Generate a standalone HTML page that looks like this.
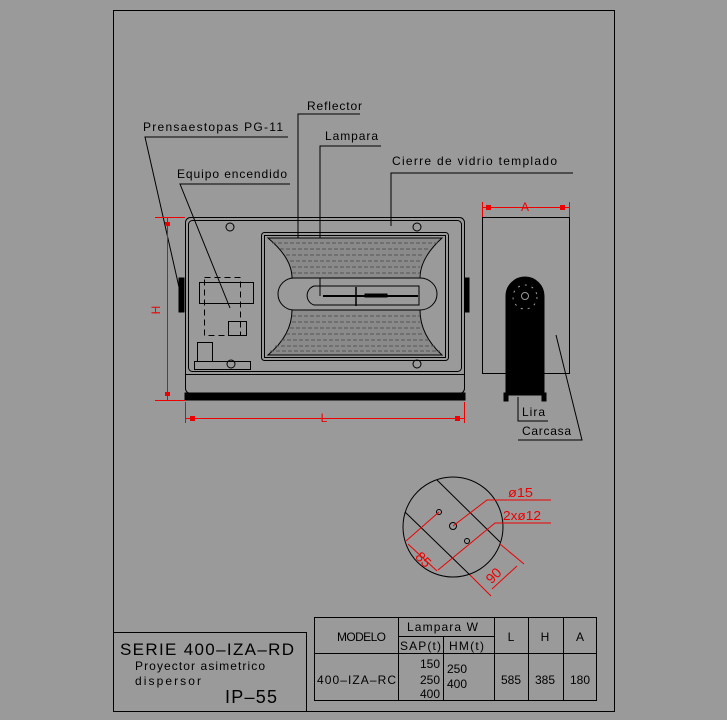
<!DOCTYPE html>
<html><head><meta charset="utf-8"><style>
html,body{margin:0;padding:0;background:#9a9a9a;}
svg{display:block;}
text{font-family:"Liberation Sans",sans-serif;}
</style></head><body>
<svg width="727" height="720" viewBox="0 0 727 720" xmlns="http://www.w3.org/2000/svg">
<rect width="727" height="720" fill="#9a9a9a"/>
<g fill="none" stroke="#000" stroke-width="1">
<rect x="113.5" y="10.5" width="501" height="701"/>
<polyline points="288,137 145,137 181,296"/>
<polyline points="290,184 180,184 230,308"/>
<polyline points="360,114 298,114 298,246"/>
<polyline points="381,146 320,146 320,296"/>
<polyline points="573,173 391,173 391,226"/>
<rect x="185.5" y="217.5" width="279" height="176" rx="5"/>
<rect x="188.5" y="220.5" width="273" height="151" rx="4"/>
<line x1="185" y1="374.5" x2="464" y2="374.5"/>
<rect x="185" y="393" width="280" height="7" fill="#000"/>
<rect x="179" y="278" width="5" height="34" fill="#000"/>
<rect x="465" y="278" width="4" height="34" fill="#000"/>
<rect x="261.5" y="232.5" width="187" height="128" rx="3"/>
<rect x="264.5" y="235.5" width="181" height="122"/>
<path d="M268,238 L442,238 Q420,258 420,278 L292,278 Q292,258 268,238 Z" fill="#8a8a8a" stroke="#000"/>
<path d="M268,355 L442,355 Q420,335 420,310 L292,310 Q292,335 268,355 Z" fill="#8a8a8a" stroke="#000"/>
<g stroke="#555" stroke-dasharray="4,2">
<line x1="272" y1="243" x2="438" y2="243"/><line x1="280" y1="249" x2="430" y2="249"/><line x1="286" y1="255" x2="424" y2="255"/><line x1="290" y1="261" x2="422" y2="261"/><line x1="292" y1="267" x2="420" y2="267"/><line x1="292" y1="273" x2="420" y2="273"/>
<line x1="292" y1="316" x2="420" y2="316"/><line x1="292" y1="322" x2="420" y2="322"/><line x1="290" y1="328" x2="422" y2="328"/><line x1="286" y1="334" x2="424" y2="334"/><line x1="281" y1="340" x2="429" y2="340"/><line x1="275" y1="346" x2="435" y2="346"/><line x1="270" y1="351" x2="440" y2="351"/>
</g>
<path d="M294,278 L420,278 A17,16 0 0 1 420,310 L294,310 A16,16 0 0 1 294,278 Z"/>
<path d="M314,286 L419,286 L419,305 L314,305 A10,10 0 0 1 314,286 Z"/>
<line x1="323" y1="296" x2="418" y2="296" stroke-width="2"/>
<line x1="356" y1="287" x2="356" y2="306" stroke-width="1.5"/>
<rect x="365" y="294" width="22" height="3" fill="#000"/>
<circle cx="230" cy="227" r="4"/><circle cx="417" cy="227" r="4"/><circle cx="231" cy="364" r="4"/><circle cx="417" cy="364" r="4"/>
<rect x="199.5" y="282.5" width="54" height="21"/>
<g stroke-dasharray="6,4"><rect x="204.5" y="277.5" width="36" height="58"/></g>
<rect x="228.5" y="321.5" width="18" height="14"/>
<rect x="197.5" y="342.5" width="15" height="19"/>
<rect x="194.5" y="361.5" width="56" height="8"/>
<rect x="482.5" y="217.5" width="87" height="156"/>
<path d="M506,296 A19,19 0 0 1 544,296 L544,395 L506,395 Z" fill="#000"/>
<rect x="504" y="393" width="4" height="8" fill="#000"/><rect x="542" y="393" width="4" height="8" fill="#000"/>
<circle cx="525" cy="296" r="3.5" stroke="#9a9a9a"/>
<circle cx="525" cy="297" r="12" stroke="#9a9a9a" stroke-dasharray="2,5"/>
<polyline points="518,397 518,421 548,421"/>
<polyline points="556,335 582,440 518,440"/>
<circle cx="453" cy="527" r="50"/>
<line x1="437" y1="480" x2="500" y2="542"/>
<line x1="405" y1="512" x2="470" y2="575"/>
<circle cx="439" cy="512" r="2.5"/><circle cx="453" cy="526" r="3.5"/><circle cx="467" cy="541" r="2.5"/>
<rect x="314.5" y="617.5" width="282" height="83"/>
<line x1="398.5" y1="617" x2="398.5" y2="700"/><line x1="443.5" y1="636" x2="443.5" y2="700"/>
<line x1="494.5" y1="617" x2="494.5" y2="700"/><line x1="528.5" y1="617" x2="528.5" y2="700"/><line x1="563.5" y1="617" x2="563.5" y2="700"/>
<line x1="398" y1="636.5" x2="494" y2="636.5"/><line x1="314" y1="653.5" x2="596" y2="653.5"/>
<polyline points="113,632.5 306.5,632.5 306.5,711"/>
</g>
<g stroke="#e00" fill="none" stroke-width="1">
<line x1="155" y1="217.5" x2="185" y2="217.5"/><line x1="155" y1="400.5" x2="185" y2="400.5"/>
<line x1="167.5" y1="217" x2="167.5" y2="400"/>
<line x1="185.5" y1="402" x2="185.5" y2="423"/><line x1="464.5" y1="402" x2="464.5" y2="423"/>
<line x1="185" y1="418.5" x2="464" y2="418.5"/>
<line x1="482.5" y1="202" x2="482.5" y2="217"/><line x1="569.5" y1="202" x2="569.5" y2="217"/>
<line x1="482" y1="207.5" x2="569" y2="207.5"/>
<polyline points="453,526 487,500 551,500"/>
<polyline points="438,570 495,523 551,523"/>
<line x1="439" y1="512" x2="406" y2="541"/>
<line x1="408" y1="544" x2="437" y2="571"/>
<line x1="500" y1="544" x2="524" y2="564"/>
<line x1="470" y1="575" x2="491" y2="596"/>
<line x1="517" y1="566" x2="492" y2="589"/>
</g>
<g fill="#e00">
<rect x="165" y="222" width="5" height="4"/><rect x="165" y="392" width="5" height="4"/>
<rect x="190" y="416" width="5" height="5"/><rect x="455" y="416" width="5" height="5"/>
<rect x="486" y="205" width="5" height="5"/><rect x="560" y="205" width="5" height="5"/>
<text x="160" y="310" font-size="12" transform="rotate(-90 160 310)" text-anchor="middle">H</text>
<text x="324" y="422" font-size="12" text-anchor="middle">L</text>
<text x="525" y="211" font-size="12" text-anchor="middle">A</text>
<text x="508" y="497" font-size="13" textLength="25" lengthAdjust="spacingAndGlyphs">ø15</text>
<text x="503" y="520" font-size="13" textLength="38" lengthAdjust="spacingAndGlyphs">2xø12</text>
<text x="420" y="563" font-size="14" transform="rotate(45 420 563)" text-anchor="middle">85</text>
<text x="497" y="579" font-size="14" transform="rotate(-45 497 579)" text-anchor="middle">90</text>
</g>
<g fill="#000" font-size="12">
<text x="143" y="131" textLength="140" lengthAdjust="spacing">Prensaestopas PG-11</text>
<text x="177" y="178" textLength="110" lengthAdjust="spacing">Equipo encendido</text>
<text x="307" y="110" textLength="55" lengthAdjust="spacing">Reflector</text>
<text x="325" y="140" textLength="53" lengthAdjust="spacing">Lampara</text>
<text x="392" y="165" textLength="165" lengthAdjust="spacing">Cierre de vidrio templado</text>
<text x="522" y="416" textLength="23" lengthAdjust="spacing">Lira</text>
<text x="522" y="435" textLength="49" lengthAdjust="spacing">Carcasa</text>
<text x="120" y="655" font-size="17" textLength="174" lengthAdjust="spacing">SERIE 400–IZA–RD</text>
<text x="135" y="670" textLength="130" lengthAdjust="spacing">Proyector asimetrico</text>
<text x="135" y="685" textLength="66" lengthAdjust="spacing">dispersor</text>
<text x="225" y="703" font-size="18" textLength="52" lengthAdjust="spacing">IP–55</text>
<text x="337" y="641" textLength="49" lengthAdjust="spacing">MODELO</text>
<text x="407" y="631" textLength="71" lengthAdjust="spacing">Lampara W</text>
<text x="400" y="650" textLength="41" lengthAdjust="spacing">SAP(t)</text>
<text x="449" y="650" textLength="35" lengthAdjust="spacing">HM(t)</text>
<text x="511" y="641" text-anchor="middle">L</text>
<text x="545" y="641" text-anchor="middle">H</text>
<text x="580" y="641" text-anchor="middle">A</text>
<text x="317" y="684" textLength="79" lengthAdjust="spacing">400–IZA–RC</text>
<text x="440" y="668" text-anchor="end">150</text>
<text x="440" y="684" text-anchor="end">250</text>
<text x="440" y="698" text-anchor="end">400</text>
<text x="447" y="673">250</text>
<text x="447" y="688">400</text>
<text x="511" y="684" text-anchor="middle">585</text>
<text x="545" y="684" text-anchor="middle">385</text>
<text x="580" y="684" text-anchor="middle">180</text>
</g>
</svg>
</body></html>
